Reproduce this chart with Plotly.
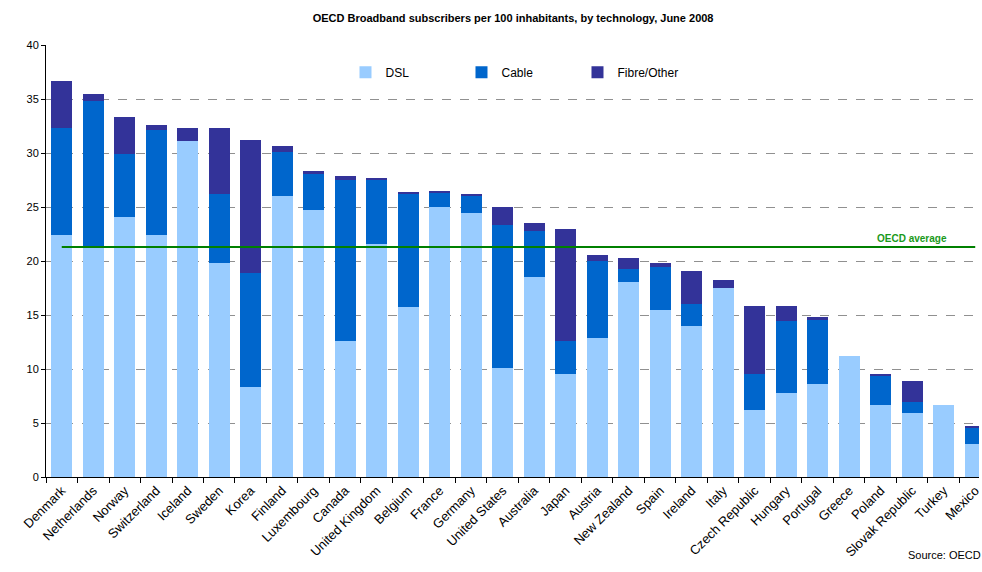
import plotly.graph_objects as go

countries = ["Denmark", "Netherlands", "Norway", "Switzerland", "Iceland", "Sweden", "Korea",
             "Finland", "Luxembourg", "Canada", "United Kingdom", "Belgium", "France", "Germany",
             "United States", "Australia", "Japan", "Austria", "New Zealand", "Spain", "Ireland",
             "Italy", "Czech Republic", "Hungary", "Portugal", "Greece", "Poland", "Slovak Republic",
             "Turkey", "Mexico"]
dsl = [22.4, 21.3, 24.1, 22.4, 31.1, 19.8, 8.3, 26.0, 24.7, 12.6, 21.6, 15.7, 25.0, 24.4,
       10.1, 18.5, 9.5, 12.9, 18.1, 15.5, 14.0, 17.5, 6.2, 7.8, 8.6, 11.2, 6.7, 5.9, 6.7, 3.1]
cable = [9.9, 13.5, 5.8, 9.7, 0.0, 6.4, 10.6, 4.1, 3.4, 14.9, 5.9, 10.5, 1.3, 1.7,
         13.2, 4.3, 3.1, 7.1, 1.2, 3.9, 2.0, 0.0, 3.3, 6.6, 5.9, 0.0, 2.7, 1.0, 0.0, 1.4]
fibre = [4.35, 0.7, 3.4, 0.5, 1.2, 6.1, 12.3, 0.55, 0.2, 0.4, 0.1, 0.2, 0.1, 0.1,
         1.7, 0.7, 10.4, 0.55, 1.0, 0.45, 3.1, 0.75, 6.3, 1.4, 0.3, 0.0, 0.1, 2.0, 0.0, 0.2]
oecd_average = 21.3
y_ticks = [0, 5, 10, 15, 20, 25, 30, 35, 40]

fig = go.Figure()
fig.add_trace(go.Bar(x=countries, y=dsl, name="DSL", marker_color="#99CCFF", marker_line_width=0))
fig.add_trace(go.Bar(x=countries, y=cable, name="Cable", marker_color="#0066CC", marker_line_width=0))
fig.add_trace(go.Bar(x=countries, y=fibre, name="Fibre/Other", marker_color="#333399", marker_line_width=0))
fig.add_trace(go.Scatter(x=[countries[0], countries[-1]], y=[oecd_average, oecd_average],
                         mode="lines", line=dict(color="#008000", width=2), showlegend=False,
                         hoverinfo="skip"))

fig.add_annotation(x=countries[-3], y=oecd_average, text="<b>OECD average</b>", showarrow=False,
                   yanchor="bottom", yshift=1, font=dict(family="Liberation Sans, Arial", size=10, color="#1a9a1a"))
fig.add_annotation(x=1, y=0, xref="paper", yref="paper", xanchor="right", yanchor="top",
                   yshift=-70, xshift=4, text="Source: OECD", showarrow=False,
                   font=dict(family="Liberation Sans, Arial", size=11, color="#000000"))

fig.update_layout(
    width=982, height=572,
    margin=dict(l=46, r=0, t=45, b=95),
    barmode="stack", bargap=0.33,
    plot_bgcolor="white", paper_bgcolor="white",
    font=dict(family="Liberation Sans, Arial", size=12, color="#000000"),
    title=dict(text="<b>OECD Broadband subscribers per 100 inhabitants, by technology, June 2008</b>",
               x=0.5225, xanchor="center", y=0.968, yanchor="middle",
               font=dict(size=11, color="#000000")),
    legend=dict(orientation="h", x=0.321, y=0.937, xanchor="left", yanchor="middle",
                traceorder="normal",
                entrywidth=71, entrywidthmode="pixels", font=dict(size=12),
                bgcolor="rgba(0,0,0,0)", itemclick=False),
    showlegend=True,
)
fig.update_xaxes(type="category", range=[-0.5, 29.12], tickangle=-45,
                 showline=True, linecolor="#000000", linewidth=1,
                 ticks="outside", tickson="boundaries", ticklen=5, tickcolor="#000000",
                 showgrid=False, tickfont=dict(size=13))
fig.update_yaxes(range=[0, 40], tickvals=y_ticks, showline=True, linecolor="#000000", linewidth=1,
                 ticks="outside", ticklen=4, tickcolor="#000000",
                 showgrid=True, gridcolor="#909090", griddash="dash", gridwidth=1,
                 zeroline=False, tickfont=dict(size=11))

fig.write_html("out.html")
